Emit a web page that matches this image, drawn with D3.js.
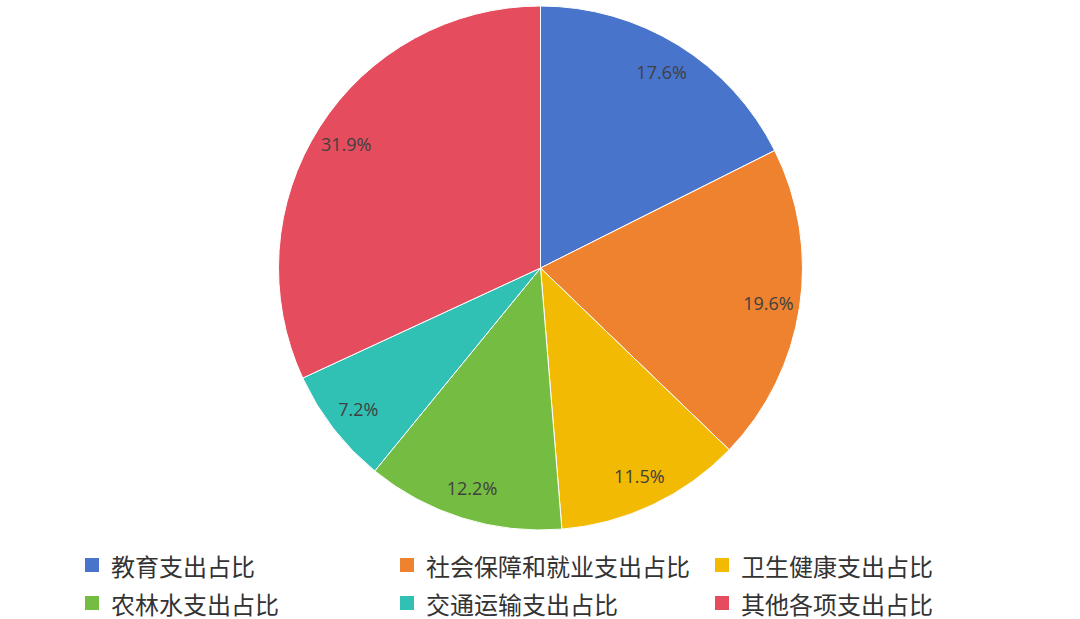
<!DOCTYPE html>
<html lang="zh">
<head>
<meta charset="UTF-8">
<title>支出占比</title>
<script src="https://d3js.org/d3.v7.min.js"></script>
<style>
  html, body { margin: 0; padding: 0; background: #fff; }
  svg { display: block; }
</style>
</head>
<body>
<div id="chart"></div>
<script>
// 数据
const categories = ["教育支出占比", "社会保障和就业支出占比", "卫生健康支出占比", "农林水支出占比", "交通运输支出占比", "其他各项支出占比"];
const values = [17.6, 19.6, 11.5, 12.2, 7.2, 31.9];
const colors = ["#4874CB", "#EE822F", "#F2BA02", "#75BD42", "#30C0B4", "#E54C5E"];

const W = 1080, H = 619;
const cx = 540.5, cy = 268, R = 262;

const svg = d3.select("#chart").append("svg")
  .attr("width", W)
  .attr("height", H);

const pie = d3.pie().sort(null).value(d => d);
const arcs = pie(values);

const arc = d3.arc().innerRadius(0).outerRadius(R);
const labelArc = d3.arc().innerRadius(R * 0.88).outerRadius(R * 0.88);

const g = svg.append("g").attr("transform", `translate(${cx},${cy})`);

g.selectAll("path.slice")
  .data(arcs)
  .enter()
  .append("path")
  .attr("class", "slice")
  .attr("d", arc)
  .attr("fill", (d, i) => colors[i])
  .attr("stroke", "#fff")
  .attr("stroke-width", 1);

// 百分比标签
g.selectAll("text.lbl")
  .data(arcs)
  .enter()
  .append("text")
  .attr("class", "lbl")
  .attr("transform", d => `translate(${labelArc.centroid(d)})`)
  .attr("text-anchor", "middle")
  .attr("dominant-baseline", "central")
  .attr("font-family", "'Open Sans', 'Noto Sans', sans-serif")
  .attr("font-size", 18)
  .attr("fill", "#404040")
  .text(d => d.data.toFixed(1) + "%");

// 图例
const legendX = d3.scalePoint().domain([0, 1, 2]).range([85, 715]);
const legendY = d3.scalePoint().domain([0, 1]).range([565, 603]);

const legend = svg.append("g")
  .selectAll("g")
  .data(categories)
  .enter()
  .append("g")
  .attr("transform", (d, i) => `translate(${legendX(i % 3)},${legendY(Math.floor(i / 3))})`);

legend.append("rect")
  .attr("x", 0)
  .attr("y", -7)
  .attr("width", 14)
  .attr("height", 14)
  .attr("fill", (d, i) => colors[i]);

legend.append("text")
  .attr("x", 26)
  .attr("y", 0)
  .attr("dominant-baseline", "central")
  .attr("font-family", "'Noto Sans CJK SC', sans-serif")
  .attr("font-size", 24)
  .attr("fill", "#333")
  .text(d => d);
</script>
</body>
</html>
